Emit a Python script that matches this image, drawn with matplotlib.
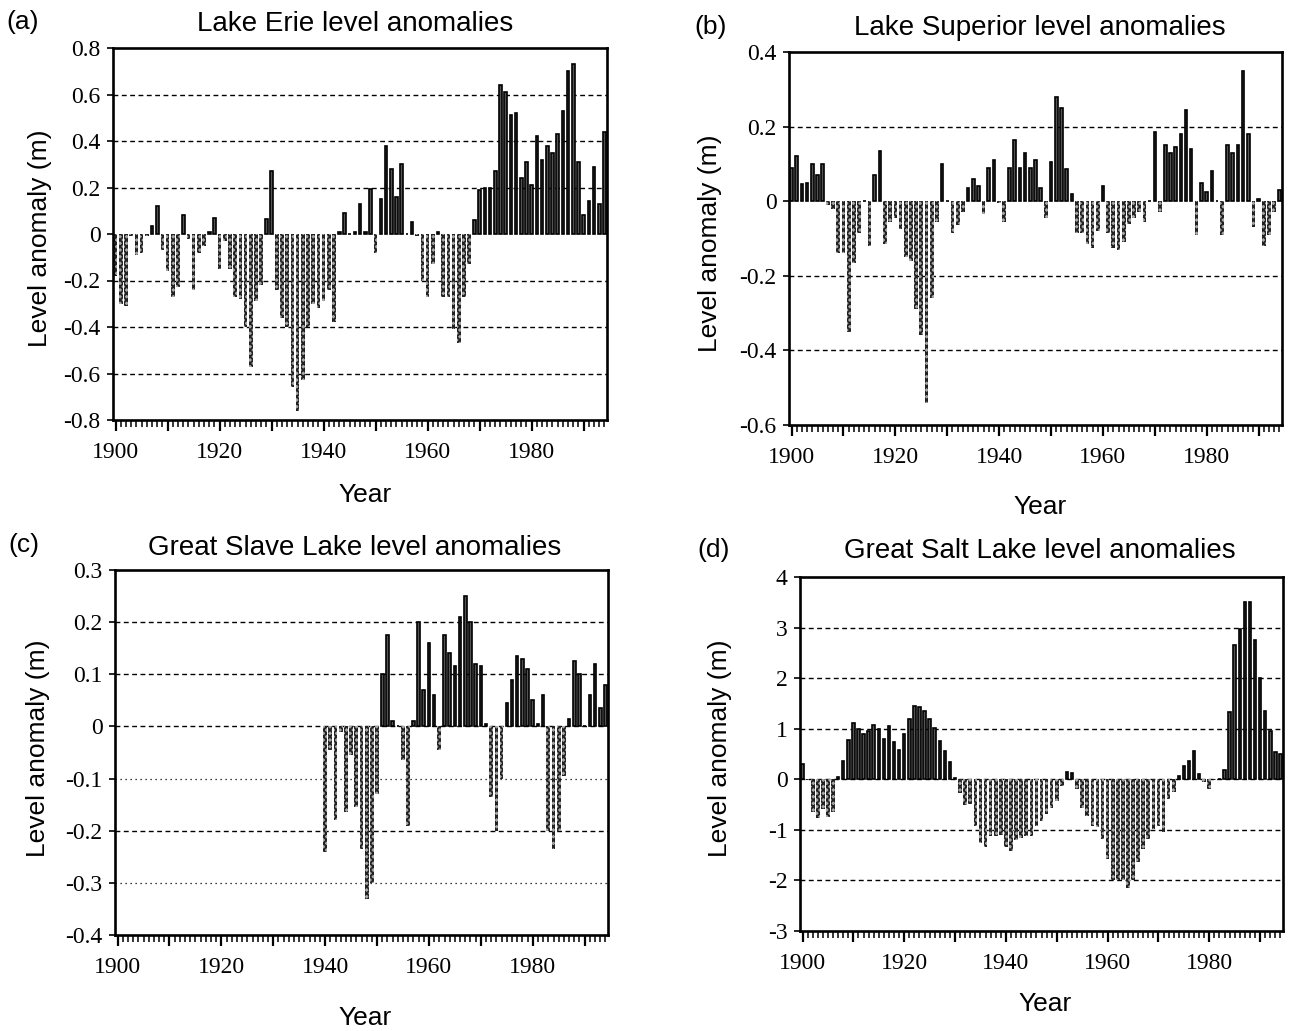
import numpy as np
import matplotlib
matplotlib.use("Agg")
import matplotlib.pyplot as plt

# annual level anomalies (m), one value per year
years = np.arange(1900, 1995)

erie = [-0.18, -0.30, -0.31, -0.01, -0.09, -0.08, -0.01, 0.035, 0.12, -0.07,
        -0.16, -0.27, -0.23, 0.08, -0.02, -0.24, -0.08, -0.05, 0.01, 0.07,
        -0.15, -0.03, -0.15, -0.27, -0.28, -0.40, -0.57, -0.29, -0.22, 0.065,
        0.27, -0.24, -0.36, -0.40, -0.66, -0.76, -0.63, -0.40, -0.30, -0.32,
        -0.29, -0.24, -0.38, 0.01, 0.09, 0.0, 0.01, 0.13, 0.01, 0.195,
        -0.08, 0.15, 0.38, 0.28, 0.16, 0.30, 0.0, 0.05, -0.01, -0.20,
        -0.27, -0.13, 0.01, -0.27, -0.27, -0.41, -0.47, -0.27, -0.13, 0.06,
        0.19, 0.20, 0.20, 0.27, 0.64, 0.61, 0.51, 0.52, 0.24, 0.31,
        0.21, 0.42, 0.32, 0.38, 0.35, 0.43, 0.53, 0.70, 0.73, 0.31,
        0.08, 0.14, 0.29, 0.13, 0.44]

superior = [0.09, 0.12, 0.045, 0.05, 0.10, 0.07, 0.10, -0.01, -0.02, -0.14,
            -0.14, -0.35, -0.165, -0.085, 0.0, -0.12, 0.07, 0.135, -0.115, -0.055,
            -0.045, -0.075, -0.15, -0.16, -0.29, -0.36, -0.54, -0.26, -0.055, 0.10,
            0.0, -0.085, -0.065, -0.03, 0.035, 0.06, 0.04, -0.035, 0.09, 0.11,
            -0.005, -0.055, 0.09, 0.165, 0.09, 0.13, 0.09, 0.11, 0.035, -0.045,
            0.105, 0.28, 0.25, 0.085, 0.02, -0.085, -0.085, -0.115, -0.125, -0.08,
            0.04, -0.085, -0.125, -0.13, -0.11, -0.06, -0.045, -0.03, -0.055, 0.0,
            0.185, -0.03, 0.15, 0.13, 0.145, 0.18, 0.245, 0.14, -0.09, 0.05,
            0.025, 0.08, 0.0, -0.09, 0.15, 0.13, 0.15, 0.35, 0.18, -0.07,
            0.005, -0.12, -0.09, -0.03, 0.03]

slave_years = np.arange(1940, 1995)
slave = [-0.24, -0.045, -0.18, -0.01, -0.165, -0.055, -0.155, -0.235, -0.33, -0.30,
         -0.13, 0.10, 0.175, 0.01, 0.0, -0.065, -0.19, 0.01, 0.20, 0.07,
         0.16, 0.06, -0.045, 0.175, 0.14, 0.115, 0.21, 0.25, 0.20, 0.12,
         0.115, 0.005, -0.135, -0.20, -0.10, 0.045, 0.09, 0.135, 0.13, 0.11,
         0.05, 0.005, 0.06, -0.20, -0.235, -0.20, -0.095, 0.015, 0.125, 0.10,
         0.0, 0.06, 0.12, 0.035, 0.08]

salt = [0.30, -0.02, -0.64, -0.77, -0.58, -0.74, -0.64, 0.05, 0.37, 0.78,
        1.12, 1.00, 0.90, 0.95, 1.07, 0.99, 0.80, 1.05, 0.74, 0.58,
        0.90, 1.20, 1.45, 1.43, 1.35, 1.20, 1.02, 0.75, 0.55, 0.35,
        0.03, -0.28, -0.50, -0.48, -0.93, -1.26, -1.34, -1.13, -1.13, -1.10,
        -1.33, -1.41, -1.20, -1.16, -1.12, -1.13, -0.92, -0.82, -0.69, -0.56,
        -0.42, -0.13, 0.14, 0.13, -0.20, -0.56, -0.72, -0.92, -0.95, -1.18,
        -1.57, -2.00, -2.00, -2.00, -2.15, -2.00, -1.63, -1.37, -1.18, -0.98,
        -0.92, -1.05, -0.38, -0.25, 0.07, 0.26, 0.36, 0.56, 0.10, -0.05,
        -0.20, -0.02, 0.01, 0.18, 1.34, 2.65, 2.97, 3.50, 3.50, 2.75,
        2.00, 1.36, 0.95, 0.54, 0.50]

W, H = 1293, 1031
SANS = "Liberation Sans"
SERIF = "Liberation Serif"
plt.rcParams["hatch.linewidth"] = 1.3


def rect(left, top, right, bottom):
    return [left / W, 1 - bottom / H, (right - left) / W, (bottom - top) / H]


def put(fig, x, y, s, size=19, **kw):
    fig.text(x / W, 1 - y / H, s, ha="center", va="center",
             fontsize=size, family=SANS, **kw)


def panel(fig, box, yrs, vals, ylim, yticks, ylabels, dashed, dotted=()):
    ax = fig.add_axes(box)
    yrs = np.asarray(yrs)
    vals = np.asarray(vals)
    pos = vals >= 0
    # negative years: stippled columns, positive years: dark outlined bars
    ax.bar(yrs[~pos], vals[~pos], width=0.72, facecolor="#a8a8a8",
           edgecolor="#222222", hatch="xxxxx", linewidth=0)
    ax.bar(yrs[pos], vals[pos], width=0.5, facecolor="#555555",
           edgecolor="black", linewidth=1.2)
    for g in dashed:
        ax.axhline(g, color="black", lw=1.0, dashes=(3.5, 2.5), zorder=0)
    for g in dotted:
        ax.axhline(g, color="black", lw=0.9, dashes=(1, 3), zorder=0)
    ax.set_xlim(1899.5, 1994.5)
    ax.set_ylim(*ylim)
    ax.set_xticks(np.arange(1900, 1995, 10))
    ax.set_xticklabels(["1900", "", "1920", "", "1940", "", "1960", "", "1980", ""])
    ax.set_xticks(np.arange(1900, 1995, 1), minor=True)
    ax.set_yticks(yticks)
    ax.set_yticklabels(ylabels)
    ax.tick_params(axis="x", which="major", direction="out", length=8, width=1.6,
                   pad=8, labelsize=17)
    ax.tick_params(axis="x", which="minor", direction="out", length=5, width=1.1)
    ax.tick_params(axis="y", direction="out", length=4, width=1.2, pad=5, labelsize=17)
    for lab in ax.get_xticklabels() + ax.get_yticklabels():
        lab.set_family(SERIF)
    for sp in ax.spines.values():
        sp.set_linewidth(1.9)
    return ax


fig = plt.figure(figsize=(W / 100, H / 100), dpi=100)

# (a) Lake Erie
panel(fig, rect(113, 48, 607, 420), years, erie, (-0.8, 0.8),
      np.arange(-0.8, 0.81, 0.2),
      ["-0.8", "-0.6", "-0.4", "-0.2", "0", "0.2", "0.4", "0.6", "0.8"],
      dashed=[-0.6, -0.4, -0.2, 0.2, 0.4, 0.6])
put(fig, 23, 22, "(a)")
put(fig, 355, 24, "Lake Erie level anomalies", size=20)
put(fig, 40, 238, "Level anomaly (m)", rotation=90)
put(fig, 365, 495, "Year")

# (b) Lake Superior
panel(fig, rect(789, 52, 1282, 425), years, superior, (-0.6, 0.4),
      np.arange(-0.6, 0.41, 0.2),
      ["-0.6", "-0.4", "-0.2", "0", "0.2", "0.4"],
      dashed=[-0.4, -0.2, 0.2])
put(fig, 711, 27, "(b)")
put(fig, 1040, 28, "Lake Superior level anomalies", size=20)
put(fig, 710, 243, "Level anomaly (m)", rotation=90)
put(fig, 1040, 507, "Year")

# (c) Great Slave Lake
panel(fig, rect(115, 570, 608, 935), slave_years, slave, (-0.4, 0.3),
      np.arange(-0.4, 0.31, 0.1),
      ["-0.4", "-0.3", "-0.2", "-0.1", "0", "0.1", "0.2", "0.3"],
      dashed=[-0.2, 0.0, 0.1, 0.2], dotted=[-0.3, -0.1])
put(fig, 24, 545, "(c)")
put(fig, 355, 548, "Great Slave Lake level anomalies", size=20)
put(fig, 38, 748, "Level anomaly (m)", rotation=90)
put(fig, 365, 1018, "Year")

# (d) Great Salt Lake
panel(fig, rect(800, 577, 1283, 931), years, salt, (-3, 4),
      np.arange(-3, 5, 1),
      ["-3", "-2", "-1", "0", "1", "2", "3", "4"],
      dashed=[-2, -1, 0, 1, 2, 3])
put(fig, 714, 550, "(d)")
put(fig, 1040, 551, "Great Salt Lake level anomalies", size=20)
put(fig, 720, 748, "Level anomaly (m)", rotation=90)
put(fig, 1045, 1004, "Year")

fig.savefig("out.png", dpi=100)
